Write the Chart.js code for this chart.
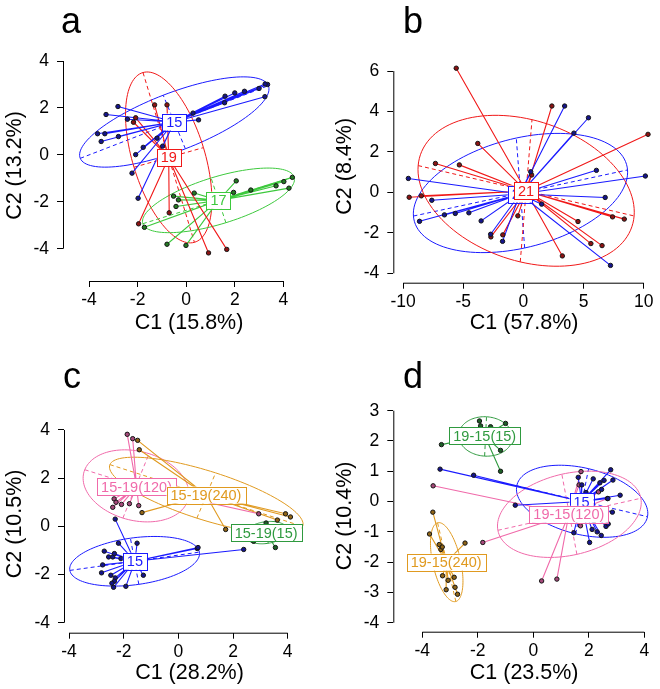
<!DOCTYPE html>
<html>
<head>
<meta charset="utf-8">
<script src="https://cdn.jsdelivr.net/npm/chart.js"></script>
<style>
  body { margin: 0; background: #fff; }
  #wrap { position: relative; width: 660px; height: 689px; }
  canvas { position: absolute; }
</style>
</head>
<body>
<div id="wrap">
  <canvas id="chartA" width="330" height="340" style="left:0;top:0"></canvas>
  <canvas id="chartB" width="330" height="340" style="left:330px;top:0"></canvas>
  <canvas id="chartC" width="330" height="349" style="left:0;top:340px"></canvas>
  <canvas id="chartD" width="330" height="349" style="left:330px;top:340px"></canvas>
</div>
<script>
// ---- panel a ----
const aXTicks = [-4, -2, 0, 2, 4];
const aYTicks = [-4, -2, 0, 2, 4];
const aLabels = ['15', '19', '17'];
const a15 = [[3.35,3.00],[3.25,3.02],[3.00,2.83],[2.40,2.71],[2.00,2.64],[1.60,2.50],[1.58,2.22],[3.24,2.48],
  [0.51,1.49],[0.28,1.78],[-2.81,2.06],[-3.30,1.72],[-2.42,1.52],[-3.65,0.90],[-3.35,0.90],[-2.79,0.78],
  [-3.50,0.57],[-1.77,0.32],[-1.20,0.71],[-0.97,0.37],[-2.08,0.01],[-2.23,-0.78],[-1.98,-1.85]];
const a19 = [[-1.30,2.13],[-0.79,2.13],[-2.17,1.39],[-2.08,1.58],[-0.70,-2.47],[-1.96,-2.94],[0.92,-4.18],[1.67,-4.03]];
const a17 = [[4.37,-0.96],[4.23,-1.42],[4.02,-1.14],[3.70,-1.32],[2.66,-1.50],[2.06,-1.11],[1.95,-1.60],[0.33,-1.63],
  [-0.52,-1.76],[-0.32,-1.92],[-0.42,-2.20],[-1.72,-3.09],[-0.79,-3.81],[-0.01,-3.86]];
const aCentres = [[-0.49,1.40],[-0.72,-0.11],[1.33,-1.94]];
// ellipse: centre x, centre y, semi-major, semi-minor, angle (deg)
const aEllipses = [[-0.49,1.40,4.17,1.23,21.8],[-0.72,-0.11,3.77,1.49,-73.7],[1.33,-1.94,3.27,1.0,17.7]];

// ---- panel b ----
const bXTicks = [-10, -5, 0, 5, 10];
const bYTicks = [-4, -2, 0, 2, 4, 6];
const bLabels = ['21', '21'];
const b21blue = [[3.42,4.27],[5.40,3.69],[4.19,2.93],[6.06,1.09],[10.13,0.81],[6.79,-0.25],[7.23,-3.61],[1.51,-0.58],
  [0.60,1.02],[-9.57,0.69],[-7.62,-0.39],[-8.64,-1.43],[-6.57,-1.11],[-5.67,-1.04],[-4.54,-1.01],[-3.52,-1.41],
  [-2.73,-2.07],[-1.74,-2.42]];
const b21red = [[-5.59,6.14],[2.36,4.27],[-3.80,2.42],[10.35,2.87],[-7.32,1.43],[-5.33,1.36],[0.68,0.86],[-9.50,-0.24],
  [-8.49,-0.17],[-0.47,-1.16],[4.53,-1.44],[7.40,-1.21],[8.38,-1.32],[5.60,-2.53],[6.53,-2.63],[3.23,-3.14],
  [-2.71,-2.20],[-1.72,-2.10]];
const bCentres = [[-0.30,-0.08],[0.21,0.07]];
const bEllipses = [[-0.25,-0.03,8.97,2.74,7.3],[0.22,0.08,9.06,3.55,-7.9]];

// ---- panel c ----
const cXTicks = [-4, -2, 0, 2, 4];
const cYTicks = [-4, -2, 0, 2, 4];
const cLabels = ['15', '15-19(120)', '15-19(15)', '15-19(240)'];
const c15 = [[-2.31,0.30],[-2.71,-1.03],[-2.55,-1.27],[-2.40,-1.27],[-2.34,-1.13],[-2.19,-0.70],[-1.51,-0.70],
  [-2.77,-1.60],[-2.81,-1.93],[-2.47,-2.03],[-2.31,-2.14],[-2.34,-2.28],[-2.43,-2.36],[-2.37,-2.53],[-1.92,-2.49],
  [-1.28,-2.03],[-2.10,-1.34],[0.69,-0.92],[0.72,-0.88],[2.39,-0.96]];
const c120 = [[-1.87,3.82],[-1.67,3.64],[-2.40,0.79],[-2.35,1.14],[-2.28,1.00],[-2.08,0.91],[-1.79,0.94],[-1.45,0.86],[2.94,0.52]];
const c15g = [[3.21,0.14],[3.55,-0.88],[2.75,-0.62],[3.30,-0.50]];
const c240 = [[-1.49,3.57],[-1.43,3.18],[-1.33,0.57],[3.92,0.52],[4.10,0.39],[3.62,0.26],[1.73,-0.13]];
const cCentres = [[-1.59,-1.45],[-1.53,1.65],[3.21,-0.26],[1.01,1.30]];
const cEllipses = [[-1.60,-1.45,2.40,0.97,9.1],[-1.55,1.68,1.99,1.42,-19.7],[3.21,-0.26,0.8,0.45,10],[1.02,1.28,3.75,1.0,-20.0]];

// ---- panel d ----
const dXTicks = [-4, -2, 0, 2, 4];
const dYTicks = [-4, -3, -2, -1, 0, 1, 2, 3];
const dLabels = ['15', '19-15(120)', '19-15(15)', '19-15(240)'];
const d15 = [[2.79,1.05],[2.55,0.70],[2.40,0.62],[2.87,0.71],[2.16,0.75],[2.46,0.40],[3.13,0.21],[2.69,0.10],
  [1.62,0.80],[1.75,0.55],[2.85,-0.35],[2.62,-0.82],[2.70,-0.74],[2.12,-0.92],[2.30,-1.00],[2.45,-1.12],
  [1.46,-1.03],[2.03,-1.35],[-3.36,1.07],[-2.15,0.87],[-0.65,-0.12],[1.90,0.30]];
const d120 = [[-3.61,0.52],[-1.82,-1.35],[0.30,-2.62],[0.85,-2.56],[1.72,0.99],[1.65,0.55],[1.70,-0.80],[2.67,0.10],
  [2.35,0.32],[2.60,-0.38],[2.20,-0.62]];
const d15g = [[-1.94,2.66],[-1.90,2.50],[-1.54,2.47],[-1.00,2.58],[-3.31,1.88],[-1.18,1.69],[-1.18,1.00]];
const d240 = [[-3.62,-0.35],[-3.74,-1.07],[-3.39,-1.42],[-3.33,-1.58],[-3.28,-1.50],[-2.46,-1.37],[-3.27,-2.45],
  [-2.85,-2.50],[-3.07,-2.60],[-2.82,-2.83],[-3.14,-2.91],[-2.73,-3.06]];
const dCentres = [[1.74,0.00],[1.28,-0.42],[-1.75,2.17],[-3.14,-2.00]];
const dEllipses = [[1.76,0.01,2.41,1.10,-12.2],[1.30,-0.42,2.63,1.35,11.6],[-1.72,2.15,0.97,0.65,-3],[-3.12,-2.0,1.34,0.5,-75.8]];

// colours: line colour, dot fill
const BLUE = ['#1a1aff', '#14148c'], RED = ['#f01818', '#8c1212'], LGREEN = ['#3dc93d', '#237a23'];
const GREEN = ['#2f9a3f', '#1d5f27'], PINK = ['#f06aaa', '#a5497a'], ORANGE = ['#e09a20', '#8f6416'];

Chart.defaults.font.family = "'Liberation Sans', Arial, sans-serif";
Chart.defaults.color = '#000';

function makeDecor(p) {
  return {
    id: 'decor',
    beforeDatasetsDraw(chart) {
      const ctx = chart.ctx, xs = chart.scales.x, ys = chart.scales.y;
      ctx.save();
      p.groups.forEach(g => {
        const [cx, cy, ra, rb, deg] = g.ell;
        const th = deg * Math.PI / 180;
        const ax = ra * Math.cos(th), ay = ra * Math.sin(th);
        const bx = -rb * Math.sin(th), by = rb * Math.cos(th);
        ctx.strokeStyle = g.col[0];
        ctx.lineWidth = 1;
        ctx.setLineDash([]);
        ctx.beginPath();
        for (let i = 0; i <= 120; i++) {
          const t = i / 120 * 2 * Math.PI;
          const px = xs.getPixelForValue(cx + ax * Math.cos(t) + bx * Math.sin(t));
          const py = ys.getPixelForValue(cy + ay * Math.cos(t) + by * Math.sin(t));
          if (i) ctx.lineTo(px, py); else ctx.moveTo(px, py);
        }
        ctx.stroke();
        ctx.setLineDash([4, 3]);
        ctx.beginPath();
        ctx.moveTo(xs.getPixelForValue(cx - ax), ys.getPixelForValue(cy - ay));
        ctx.lineTo(xs.getPixelForValue(cx + ax), ys.getPixelForValue(cy + ay));
        ctx.moveTo(xs.getPixelForValue(cx - bx), ys.getPixelForValue(cy - by));
        ctx.lineTo(xs.getPixelForValue(cx + bx), ys.getPixelForValue(cy + by));
        ctx.stroke();
      });
      ctx.restore();
    },
    afterDatasetsDraw(chart) {
      const ctx = chart.ctx, xs = chart.scales.x, ys = chart.scales.y;
      ctx.save();
      ctx.font = "14.5px 'Liberation Sans', Arial, sans-serif";
      ctx.textAlign = 'center';
      ctx.textBaseline = 'middle';
      p.groups.forEach(g => {
        const px = xs.getPixelForValue(g.c[0]), py = ys.getPixelForValue(g.c[1]);
        const w = ctx.measureText(g.label).width + 8, h = 17;
        ctx.fillStyle = '#fff';
        ctx.fillRect(px - w / 2, py - h / 2, w, h);
        ctx.strokeStyle = g.col[0];
        ctx.lineWidth = 1;
        ctx.strokeRect(Math.round(px - w / 2) + 0.5, Math.round(py - h / 2) + 0.5, Math.round(w), h);
        ctx.fillStyle = g.col[0];
        ctx.fillText(g.label, px, py + 1);
      });
      ctx.restore();
    },
    afterDraw(chart) {
      const ctx = chart.ctx, xs = chart.scales.x, ys = chart.scales.y, ca = chart.chartArea;
      ctx.save();
      ctx.strokeStyle = '#000';
      ctx.lineWidth = 1;
      ctx.beginPath();
      ctx.moveTo(ca.left + 0.5, ys.getPixelForValue(p.yTicks[0]));
      ctx.lineTo(ca.left + 0.5, ys.getPixelForValue(p.yTicks[p.yTicks.length - 1]));
      ctx.moveTo(xs.getPixelForValue(p.xTicks[0]), ca.bottom + 0.5);
      ctx.lineTo(xs.getPixelForValue(p.xTicks[p.xTicks.length - 1]), ca.bottom + 0.5);
      ctx.stroke();
      ctx.fillStyle = '#000';
      ctx.font = "36px 'Liberation Sans', Arial, sans-serif";
      ctx.textBaseline = 'alphabetic';
      ctx.fillText(p.letter, p.letterPos[0], p.letterPos[1]);
      ctx.restore();
    }
  };
}

function makePanel(p) {
  const datasets = [];
  p.groups.forEach(g => {
    datasets.push({
      data: g.pts.map(q => ({ x: q[0], y: q[1] })),
      pointRadius: 2.2, pointBackgroundColor: g.col[1], pointBorderColor: '#151515',
      pointBorderWidth: 1, showLine: false
    });
  });
  p.groups.forEach(g => {
    const segs = [];
    g.pts.forEach(q => {
      segs.push({ x: q[0], y: q[1] }, { x: g.c[0], y: g.c[1] }, { x: g.c[0], y: null });
    });
    datasets.push({
      data: segs, showLine: true, spanGaps: false, borderColor: g.col[0], borderWidth: 1.1,
      pointRadius: 0, fill: false, tension: 0
    });
  });
  const tickFont = { size: 17.5 };
  const titleFont = { size: 21.5, lineHeight: 1 };
  new Chart(document.getElementById(p.id), {
    type: 'scatter',
    data: { datasets },
    options: {
      responsive: false, animation: false, devicePixelRatio: 1,
      layout: { padding: p.pad },
      plugins: { legend: { display: false }, tooltip: { enabled: false } },
      scales: {
        x: {
          type: 'linear', min: p.xRange[0], max: p.xRange[1],
          afterBuildTicks: ax => { ax.ticks = p.xTicks.map(v => ({ value: v })); },
          afterFit: ax => { ax.height = p.xAxisH; },
          ticks: { font: tickFont, padding: 3, maxRotation: 0, autoSkip: false, callback: v => String(v) },
          grid: { drawOnChartArea: false, drawTicks: true, tickLength: 6, color: '#000', lineWidth: 1 },
          border: { display: false },
          title: { display: true, text: p.xTitle, font: titleFont, padding: { top: 0, bottom: p.xTitlePad } }
        },
        y: {
          type: 'linear', min: p.yRange[0], max: p.yRange[1],
          afterBuildTicks: ax => { ax.ticks = p.yTicks.map(v => ({ value: v })); },
          afterFit: ax => { ax.width = p.yAxisW; },
          ticks: { font: tickFont, padding: 8, autoSkip: false, callback: v => String(v) },
          grid: { drawOnChartArea: false, drawTicks: true, tickLength: 6, color: '#000', lineWidth: 1 },
          border: { display: false },
          title: { display: true, text: p.yTitle, font: titleFont, padding: { top: 4.25, bottom: 0 } }
        }
      }
    },
    plugins: [makeDecor(p)]
  });
}

function grp(pts, c, label, ell, col) { return { pts, c, label, ell, col }; }

makePanel({
  id: 'chartA', letter: 'a', letterPos: [61, 33],
  xTitle: 'C1 (15.8%)', yTitle: 'C2 (13.2%)', xTicks: aXTicks, yTicks: aYTicks,
  xRange: [-5.072, 5.303], yRange: [-5.377, 4.469],
  pad: { top: 50, right: 15, left: 0, bottom: 0 }, yAxisW: 63, xAxisH: 59, xTitlePad: 6.5,
  groups: [grp(a15, aCentres[0], aLabels[0], aEllipses[0], BLUE),
           grp(a19, aCentres[1], aLabels[1], aEllipses[1], RED),
           grp(a17, aCentres[2], aLabels[2], aEllipses[2], LGREEN)]
});
makePanel({
  id: 'chartB', letter: 'b', letterPos: [73, 33],
  xTitle: 'C1 (57.8%)', yTitle: 'C2 (8.4%)', xTicks: bXTicks, yTicks: bYTicks,
  xRange: [-10.82, 10.93], yRange: [-4.464, 7.039],
  pad: { top: 50, right: 2, left: 0, bottom: 0 }, yAxisW: 63.3, xAxisH: 57.3, xTitlePad: 6.5,
  groups: [grp(b21blue, bCentres[0], bLabels[0], bEllipses[0], BLUE),
           grp(b21red, bCentres[1], bLabels[1], bEllipses[1], RED)]
});
makePanel({
  id: 'chartC', letter: 'c', letterPos: [63, 48],
  xTitle: 'C1 (28.2%)', yTitle: 'C2 (10.5%)', xTicks: cXTicks, yTicks: cYTicks,
  xRange: [-4.183, 4.998], yRange: [-4.415, 4.622],
  pad: { top: 75, right: 15, left: 0, bottom: 0 }, yAxisW: 64, xAxisH: 56.3, xTitlePad: 5.5,
  groups: [grp(c15, cCentres[0], cLabels[0], cEllipses[0], BLUE),
           grp(c120, cCentres[1], cLabels[1], cEllipses[1], PINK),
           grp(c15g, cCentres[2], cLabels[2], cEllipses[2], GREEN),
           grp(c240, cCentres[3], cLabels[3], cEllipses[3], ORANGE)]
});
makePanel({
  id: 'chartD', letter: 'd', letterPos: [73, 48],
  xTitle: 'C1 (23.5%)', yTitle: 'C2 (10.4%)', xTicks: dXTicks, yTicks: dYTicks,
  xRange: [-5.045, 4.386], yRange: [-4.296, 3.353],
  pad: { top: 60, right: 5, left: 0, bottom: 0 }, yAxisW: 63.3, xAxisH: 57.3, xTitlePad: 5.5,
  groups: [grp(d15, dCentres[0], dLabels[0], dEllipses[0], BLUE),
           grp(d120, dCentres[1], dLabels[1], dEllipses[1], PINK),
           grp(d15g, dCentres[2], dLabels[2], dEllipses[2], GREEN),
           grp(d240, dCentres[3], dLabels[3], dEllipses[3], ORANGE)]
});
</script>
</body>
</html>
